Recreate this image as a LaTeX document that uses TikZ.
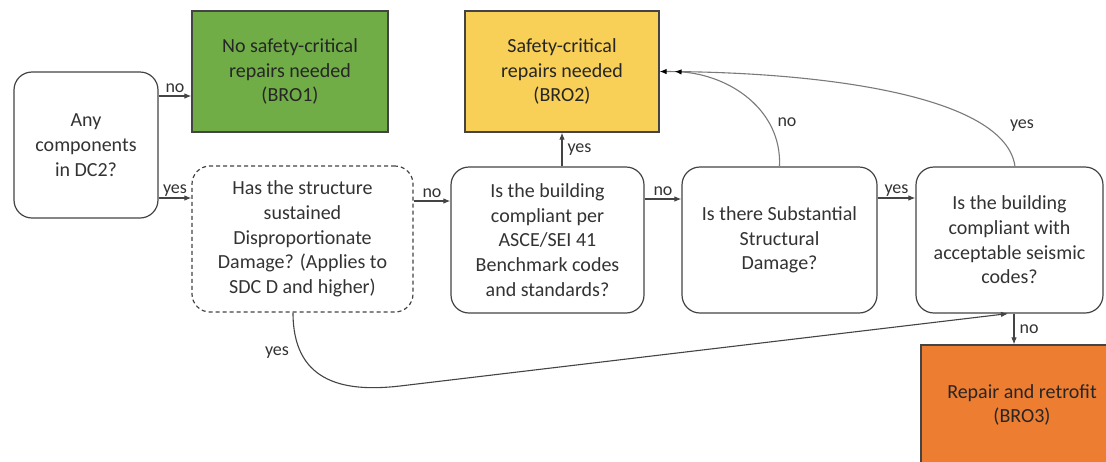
\documentclass[tikz,border=0pt]{standalone}
\usepackage{fontspec}
\setmainfont{Carlito}
\usetikzlibrary{arrows.meta}
\definecolor{linec}{HTML}{444444}
\definecolor{arcc}{HTML}{7A7A7A}
\definecolor{txt}{HTML}{333333}
\definecolor{gfill}{HTML}{70AD47}
\definecolor{yfill}{HTML}{F8CF57}
\definecolor{ofill}{HTML}{ED7D31}
\begin{document}
\begin{tikzpicture}[x=1pt,y=-1pt,
  box/.style={draw=linec, line width=1.2pt, rounded corners=18pt, align=center,
    text=txt, font=\fontsize{20}{24.7}\selectfont, inner sep=0pt},
  outbox/.style={draw=linec, line width=1.2pt, align=center,
    text=black!85, font=\fontsize{20}{24.7}\selectfont, inner sep=0pt},
  arr/.style={draw=linec, line width=1.1pt, -{Latex[length=7pt,width=5.5pt]}},
  arcarr/.style={draw=arcc, line width=1.1pt, -{Latex[length=7pt,width=5.5pt,color=black]}},
  lbl/.style={text=txt, font=\fontsize{18}{20}\selectfont, inner sep=1pt}]
\clip (0,0) rectangle (1106,461);
\fill[white] (0,0) rectangle (1106,461);
% nodes
\node[box, minimum width=144pt, minimum height=146pt] (A) at (86,145) {Any\\components\\in DC2?};
\node[outbox, fill=gfill, minimum width=196pt, minimum height=121pt] (B1) at (290,71.5) {No safety-critical\\repairs needed\\(BRO1)};
\node[box, dash pattern=on 4pt off 3pt, minimum width=221pt, minimum height=146pt] (B) at (302.5,239) {Has the structure\\sustained\\Disproportionate\\Damage? (Applies to\\SDC D and higher)};
\node[box, minimum width=193pt, minimum height=146pt] (C) at (547.5,240) {Is the building\\compliant per\\ASCE/SEI 41\\Benchmark codes\\and standards?};
\node[outbox, fill=yfill, minimum width=194pt, minimum height=121pt] (B2) at (562,71.5) {Safety-critical\\repairs needed\\(BRO2)};
\node[box, minimum width=195pt, minimum height=146pt] (D) at (779.5,240) {Is there Substantial\\Structural\\Damage?};
\node[box, minimum width=187pt, minimum height=146pt] (E) at (1009.5,240) {Is the building\\compliant with\\acceptable seismic\\codes?};
\node[outbox, fill=ofill, minimum width=202pt, minimum height=120pt] (B3) at (1022,405) {Repair and retrofit\\(BRO3)};
% helper coordinates
\coordinate (a1) at ([yshift=49pt]A.east);
\coordinate (a2) at ([yshift=-53pt]A.east);
\coordinate (b1) at ([yshift=38pt]B.east);
\coordinate (c1) at ([yshift=41pt]C.east);
\coordinate (d1) at ([yshift=42pt]D.east);
\coordinate (e1) at ([xshift=4.5pt]E.south);
% straight connectors
\draw[arr] (a1) -- (a1 -| B1.west) node[lbl, midway, above=2pt] {no};
\draw[arr] (a2) -- (a2 -| B.west) node[lbl, midway, above=0pt] {yes};
\draw[arr] (b1) -- (b1 -| C.west) node[lbl, midway, above=2pt] {no};
\draw[arr] (c1) -- (c1 -| D.west) node[lbl, midway, above=2pt] {no};
\draw[arr] (d1) -- (d1 -| E.west) node[lbl, midway, above=0pt] {yes};
\draw[arr] (C.north -| B2.south) -- (B2.south) node[lbl, midway, right=4pt] {yes};
\draw[arr] (e1) -- (e1 |- B3.north) node[lbl, midway, right=4pt] {no};
% curved connectors
\draw[arcarr] ([xshift=5.5pt]E.north) .. controls (1005,95) and (820,72) .. (B2.east);
\draw[arcarr] (D.north) .. controls (782,110) and (730,75) .. ([xshift=15pt]B2.east);
\draw[arr] ([xshift=-9.5pt]B.south) .. controls (293,380) and (340,393) .. (400,386) -- ([xshift=-1.5pt]E.south);
% curve labels
\node[lbl] (lno) at (787,122) {no};
\node[lbl] (lyes) at (1022,126) {yes};
\node[lbl] (lyes2) at (277,353) {yes};
\end{tikzpicture}
\end{document}
